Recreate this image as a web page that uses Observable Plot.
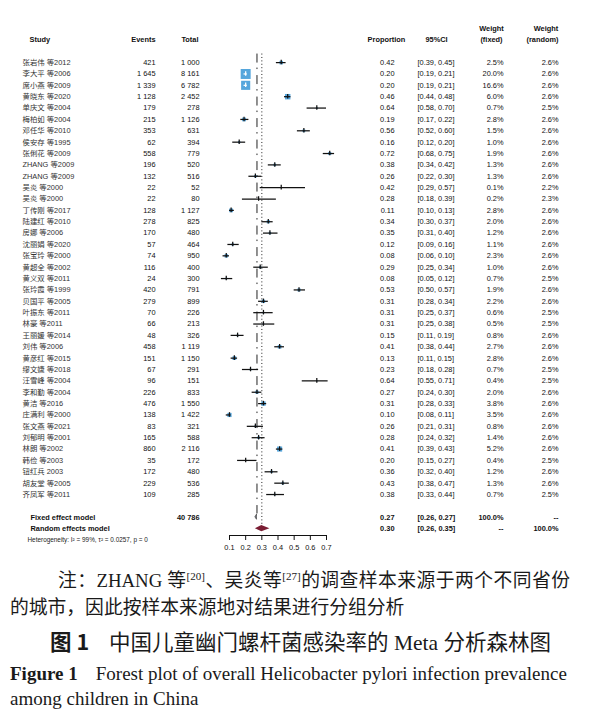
<!DOCTYPE html>
<html>
<head>
<meta charset="utf-8">
<script src="https://cdn.jsdelivr.net/npm/d3@7"></script>
<script src="https://cdn.jsdelivr.net/npm/@observablehq/plot@0.6"></script>
<style>
  html, body { margin: 0; padding: 0; background: #fff; }
  body { width: 611px; height: 717px; overflow: hidden; }
  #chart svg { display: block; }
  .cap { font-family: "Liberation Serif", "Noto Sans CJK SC", serif; color: #1a1a1a; }
  .note { margin-top: 7px; font-size: 18.8px; line-height: 27px; }
  .note .l1 { margin-left: 58px; width: 512px; text-align: justify; text-align-last: justify; white-space: nowrap; }
  .note .l2 { margin-left: 10px; }
  .note sup { font-size: 11px; vertical-align: 7px; line-height: 0; }
  .title { margin-top: 4px; margin-left: 50px; font-size: 21.5px; line-height: 32px; white-space: nowrap; }
  .title b { font-family: "Noto Sans CJK SC", sans-serif; font-weight: 700; margin-right: 20px; }
  .en { margin-left: 10px; font-size: 19px; line-height: 25px; margin-top: 2px; white-space: nowrap; }
  .en b { margin-right: 18px; }
</style>
</head>
<body>
<div id="chart"></div>
<div class="cap note">
  <div class="l1">注：ZHANG 等<sup>[20]</sup>、吴炎等<sup>[27]</sup>的调查样本来源于两个不同省份</div>
  <div class="l2">的城市，因此按样本来源地对结果进行分组分析</div>
</div>
<div class="cap title"><b>图 1</b>中国儿童幽门螺杆菌感染率的 Meta 分析森林图</div>
<div class="cap en"><b>Figure 1</b>Forest plot of overall Helicobacter pylori infection prevalence<br>among children in China</div>
<script>
// ---------------- data ----------------
const studies = [
  "张岩伟 等2012", "李大平 等2006", "席小燕 等2009", "黄晓东 等2020", "单庆文 等2004",
  "梅柏如 等2004", "邓任华 等2010", "侯安存 等1995", "张俐花 等2009", "ZHANG 等2009",
  "ZHANG 等2009", "吴炎 等2000", "吴炎 等2000", "丁传刚 等2017", "陆建红 等2010",
  "房娜 等2006", "沈丽娟 等2020", "张宝玲 等2000", "黄超全 等2002", "黄义双 等2011",
  "张玲霞 等1999", "贝国平 等2005", "叶振东 等2011", "林豪 等2011", "王丽媛 等2014",
  "刘伟 等2006", "黄彦红 等2015", "缪文婕 等2018", "汪雪峰 等2004", "李和勤 等2004",
  "黄洁 等2016", "庄满利 等2000", "张文燕 等2021", "刘郁明 等2001", "林朗 等2002",
  "韩俭 等2003", "钮红兵 2003", "胡友堂 等2005", "齐凤军 等2011"
];
const events = [421, 1645, 1339, 1128, 179, 215, 353, 62, 558, 196, 132, 22, 22, 128, 278, 170, 57, 74, 116, 24,
  420, 279, 70, 66, 48, 458, 151, 67, 96, 226, 476, 138, 83, 165, 860, 35, 172, 229, 109];
const totals = [1000, 8161, 6782, 2452, 278, 1126, 631, 394, 779, 520, 516, 52, 80, 1127, 825, 480, 464, 950, 400, 300,
  791, 899, 226, 213, 326, 1119, 1150, 291, 151, 833, 1550, 1422, 321, 588, 2116, 172, 480, 536, 285];
const proportions = [0.42, 0.20, 0.20, 0.46, 0.64, 0.19, 0.56, 0.16, 0.72, 0.38, 0.26, 0.42, 0.28, 0.11, 0.34, 0.35, 0.12, 0.08, 0.29, 0.08,
  0.53, 0.31, 0.31, 0.31, 0.15, 0.41, 0.13, 0.23, 0.64, 0.27, 0.31, 0.10, 0.26, 0.28, 0.41, 0.20, 0.36, 0.43, 0.38];
const ciLower = [0.39, 0.19, 0.19, 0.44, 0.58, 0.17, 0.52, 0.12, 0.68, 0.34, 0.22, 0.29, 0.18, 0.10, 0.30, 0.31, 0.09, 0.06, 0.25, 0.05,
  0.50, 0.28, 0.25, 0.25, 0.11, 0.38, 0.11, 0.18, 0.55, 0.24, 0.28, 0.08, 0.21, 0.24, 0.39, 0.15, 0.32, 0.38, 0.33];
const ciUpper = [0.45, 0.21, 0.21, 0.48, 0.70, 0.22, 0.60, 0.20, 0.75, 0.42, 0.30, 0.57, 0.39, 0.13, 0.37, 0.40, 0.16, 0.10, 0.34, 0.12,
  0.57, 0.34, 0.37, 0.38, 0.19, 0.44, 0.15, 0.28, 0.71, 0.30, 0.33, 0.11, 0.31, 0.32, 0.43, 0.27, 0.40, 0.47, 0.44];
const weightFixed = [2.5, 20.0, 16.6, 6.0, 0.7, 2.8, 1.5, 1.0, 1.9, 1.3, 1.3, 0.1, 0.2, 2.8, 2.0, 1.2, 1.1, 2.3, 1.0, 0.7,
  1.9, 2.2, 0.6, 0.5, 0.8, 2.7, 2.8, 0.7, 0.4, 2.0, 3.8, 3.5, 0.8, 1.4, 5.2, 0.4, 1.2, 1.3, 0.7];
const weightRandom = [2.6, 2.6, 2.6, 2.6, 2.5, 2.6, 2.6, 2.6, 2.6, 2.6, 2.6, 2.2, 2.3, 2.6, 2.6, 2.6, 2.6, 2.6, 2.6, 2.5,
  2.6, 2.6, 2.5, 2.5, 2.6, 2.6, 2.6, 2.5, 2.5, 2.6, 2.6, 2.6, 2.6, 2.6, 2.6, 2.5, 2.6, 2.6, 2.5];

const summaryLabels = ["Fixed effect model", "Random effects model"];
const summaryTotal = [40786, null];
const summaryProp = [0.27, 0.30];
const summaryLower = [0.26, 0.26];
const summaryUpper = [0.27, 0.35];
const summaryWeightFixed = ["100.0%", "--"];
const summaryWeightRandom = ["--", "100.0%"];
const heterogeneity = "Heterogeneity: I² = 99%, τ² = 0.0257, p = 0";

const headers = ["Study", "Events", "Total", "Proportion", "95%CI", "Weight", "(fixed)", "Weight", "(random)"];
const xTicks = [0.1, 0.2, 0.3, 0.4, 0.5, 0.6, 0.7];

// ---------------- layout / style ----------------
const W = 611, H = 560;
const mLeft = 229, mRight = 285;
const xDomain = [0.1, 0.7];
const pxPerUnit = (W - mLeft - mRight) / (xDomain[1] - xDomain[0]);
const sans = "'Liberation Sans', Arial, 'Noto Sans CJK SC', sans-serif";
const fs = 7.4;
const blue = "#55a6dc";
const maroon = "#7a1d33";

const nStudies = studies.length;
const rows = studies.map((name, i) => ({
  i, name, events: events[i], total: totals[i], p: proportions[i],
  lo: ciLower[i], hi: ciUpper[i], wf: weightFixed[i], wr: weightRandom[i]
}));
const fixedRow = nStudies + 1, randomRow = nStudies + 2, hetRow = nStudies + 3;
const summary = summaryLabels.map((label, k) => ({
  label, row: k === 0 ? fixedRow : randomRow, total: summaryTotal[k],
  p: summaryProp[k], lo: summaryLower[k], hi: summaryUpper[k],
  wf: summaryWeightFixed[k], wr: summaryWeightRandom[k]
}));

const loc = d3.formatLocale({decimal: ".", thousands: " ", grouping: [3], currency: ["", ""]});
const fmtInt = loc.format(",");
const fmt2 = d3.format(".2f");
const fmtCI = (lo, hi) => `[${fmt2(lo)}, ${fmt2(hi)}]`;
const fmtW = (w) => `${w.toFixed(1)}%`;

// square side (px) for given weight: r scale sqrt, side = r*sqrt(pi)
const rMax = 5.64;
const side = (w) => Math.sqrt(w / 20) * rMax * Math.sqrt(Math.PI);
const inside = (d) => (d.hi - d.lo) * pxPerUnit < side(d.wf);
const rowsIn = rows.filter(inside), rowsOut = rows.filter(d => !inside(d));

// text helper: column anchored at a horizontal position relative to frame left
const col = (data, opts, xPos) => Plot.text(data, {frameAnchor: "left", dx: xPos - mLeft, fontFamily: sans, fontSize: fs, fill: "#111", ...opts});

// diamond polygons built from summary values
const diamond = (s, h) => [
  {y: s.row - h, x1: s.p, x2: s.p},
  {y: s.row, x1: s.lo, x2: s.hi},
  {y: s.row + h, x1: s.p, x2: s.p}
];

const chart = Plot.plot({
  width: W, height: H,
  marginLeft: mLeft, marginRight: mRight, marginTop: 0, marginBottom: 25,
  style: {fontFamily: sans, fontSize: "7.4px", color: "#111", background: "#fff", overflow: "visible"},
  x: {domain: xDomain, ticks: xTicks, tickFormat: d => d.toFixed(1), tickSize: 5, tickPadding: 4, label: null, line: true},
  y: {domain: [-3, hetRow], range: [28, 539.5], axis: null},
  r: {type: "sqrt", domain: [0, 20], range: [0, rMax]},
  marks: [
    // reference lines: fixed (dashed) and random (dotted)
    Plot.ruleX([summary[0]], {x: "p", y1: -0.75, y2: fixedRow - 0.3, stroke: "#222", strokeWidth: 1, strokeDasharray: "9,5,1.5,6"}),
    Plot.ruleX([summary[1]], {x: "p", y1: -0.75, y2: randomRow - 0.3, stroke: "#222", strokeWidth: 1, strokeDasharray: "1,2.4"}),
    // weight squares
    Plot.dot(rows, {x: "p", y: "i", r: "wf", symbol: "square", fill: blue, stroke: "none"}),
    // CIs + point ticks
    Plot.ruleY(rowsOut, {y: "i", x1: "lo", x2: "hi", stroke: "#111", strokeWidth: 1.25}),
    Plot.ruleX(rowsOut, {x: "p", y1: d => d.i - 0.2, y2: d => d.i + 0.2, stroke: "#111", strokeWidth: 1.25}),
    Plot.ruleY(rowsIn, {y: "i", x1: "lo", x2: "hi", stroke: "#fff", strokeWidth: 1.25}),
    Plot.ruleX(rowsIn, {x: "p", y1: d => d.i - 0.2, y2: d => d.i + 0.2, stroke: "#fff", strokeWidth: 1.25}),
    // summary diamonds
    Plot.areaX(diamond(summary[0], 0.22), {y: "y", x1: "x1", x2: "x2", fill: "#6b7280", stroke: "#555", strokeWidth: 0.8}),
    Plot.areaX(diamond(summary[1], 0.27), {y: "y", x1: "x1", x2: "x2", fill: maroon}),
    // header
    col([headers[0]], {y: () => -2, text: d => d, textAnchor: "start", fontWeight: "bold"}, 29),
    col([headers[1]], {y: () => -2, text: d => d, textAnchor: "end", fontWeight: "bold"}, 155),
    col([headers[2]], {y: () => -2, text: d => d, textAnchor: "end", fontWeight: "bold"}, 198),
    col([headers[3]], {y: () => -2, text: d => d, textAnchor: "middle", fontWeight: "bold"}, 386),
    col([headers[4]], {y: () => -2, text: d => d, textAnchor: "middle", fontWeight: "bold"}, 436),
    col([headers[5]], {y: () => -3, text: d => d, textAnchor: "middle", fontWeight: "bold"}, 491),
    col([headers[6]], {y: () => -2, text: d => d, textAnchor: "middle", fontWeight: "bold"}, 491),
    col([headers[7]], {y: () => -3, text: d => d, textAnchor: "middle", fontWeight: "bold"}, 545.5),
    col([headers[8]], {y: () => -2, text: d => d, textAnchor: "middle", fontWeight: "bold"}, 542),
    // study rows
    col(rows, {y: "i", text: "name", textAnchor: "start", fill: "#333"}, 22),
    col(rows, {y: "i", text: d => fmtInt(d.events), textAnchor: "end"}, 155),
    col(rows, {y: "i", text: d => fmtInt(d.total), textAnchor: "end"}, 199),
    col(rows, {y: "i", text: d => fmt2(d.p), textAnchor: "end"}, 394),
    col(rows, {y: "i", text: d => fmtCI(d.lo, d.hi), textAnchor: "start"}, 417),
    col(rows, {y: "i", text: d => fmtW(d.wf), textAnchor: "end"}, 503),
    col(rows, {y: "i", text: d => fmtW(d.wr), textAnchor: "end"}, 558),
    // summary rows
    col(summary, {y: "row", text: "label", textAnchor: "start", fontWeight: "bold"}, 30),
    col(summary.filter(s => s.total != null), {y: "row", text: d => fmtInt(d.total), textAnchor: "end", fontWeight: "bold"}, 199),
    col(summary, {y: "row", text: d => fmt2(d.p), textAnchor: "end", fontWeight: "bold"}, 394),
    col(summary, {y: "row", text: d => fmtCI(d.lo, d.hi), textAnchor: "start", fontWeight: "bold"}, 417),
    col(summary, {y: "row", text: "wf", textAnchor: "end", fontWeight: "bold"}, 503),
    col(summary, {y: "row", text: "wr", textAnchor: "end", fontWeight: "bold"}, 558),
    // heterogeneity
    col([heterogeneity], {y: () => hetRow, text: d => d, textAnchor: "start", fontSize: 6.4, fill: "#222"}, 27)
  ]
});
document.getElementById("chart").append(chart);
</script>
</body>
</html>
